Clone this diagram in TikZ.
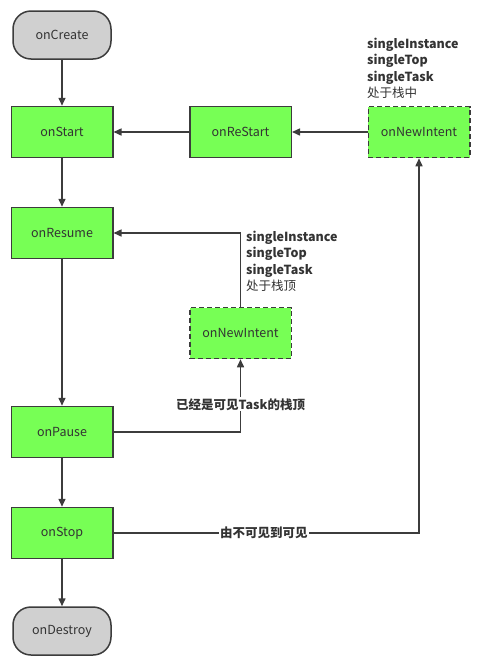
\documentclass[tikz,border=0pt]{standalone}
\usepackage{fontspec}
\setmainfont{Noto Sans CJK SC}
\usepackage{tikz}
\usetikzlibrary{positioning, arrows.meta}

\definecolor{actgreen}{HTML}{77FF55}
\definecolor{termgray}{HTML}{D0D0D0}
\definecolor{edge}{HTML}{3C3C3C}
\definecolor{txt}{HTML}{333333}

\begin{document}
\begin{tikzpicture}[x=1pt, y=-1pt,
  >={Triangle[length=8pt, width=7pt]},
  every node/.style={font=\fontsize{12.5}{16.3}\selectfont, text=txt},
  box/.style    = {draw=edge, line width=1.5pt, minimum width=101.5pt, minimum height=51pt, inner sep=2pt},
  act/.style    = {box, fill=actgreen},
  newint/.style = {act, dash pattern=on 5pt off 3pt},
  term/.style   = {box, fill=termgray, rounded corners=18pt, minimum width=98pt, minimum height=48pt},
  arr/.style    = {->, line width=1.5pt, draw=edge},
  note/.style   = {align=left, anchor=north west, inner sep=0pt},
  cond/.style   = {fill=white, inner sep=1pt, font=\fontsize{12.5}{16}\selectfont\bfseries},
]
  \useasboundingbox (0,0) rectangle (480,667);
  % main life cycle
  \node[term]                            (create)  at (62,35) {onCreate};
  \node[act,  below=46pt of create]      (start)   {onStart};
  \node[act,  below=48.5pt of start]     (resume)  {onResume};
  \node[act,  below=146.5pt of resume]   (pause)   {onPause};
  \node[act,  below=48.5pt of pause]     (stop)    {onStop};
  \node[term, below=47pt of stop]        (destroy) {onDestroy};
  % restart branch
  \node[act,    right=75.5pt of start]   (restart) {onReStart};
  \node[newint, right=75.5pt of restart] (intentA) {onNewIntent};
  \node[newint, below=148.5pt of restart](intentB) {onNewIntent};
  \node[note] (noteA) at (367,38) {\textbf{singleInstance}\\\textbf{singleTop}\\\textbf{singleTask}\\处于栈中};
  \node[note] (noteB) at (246,231) {\textbf{singleInstance}\\\textbf{singleTop}\\\textbf{singleTask}\\处于栈顶};

  \foreach \a/\b in {create/start, start/resume, resume/pause, pause/stop,
                     stop/destroy, restart/start, intentA/restart}
     \draw[arr] (\a) -- (\b);
  \draw[arr] (stop.east) -| node[cond, pos=0.246] {由不可见到可见} (intentA.south);
  \draw[arr] (pause.east) -| node[cond, pos=0.69] {已经是可见Task的栈顶} (intentB.south);
  \draw[arr] (intentB.north) |- (resume.east);
\end{tikzpicture}
\end{document}
